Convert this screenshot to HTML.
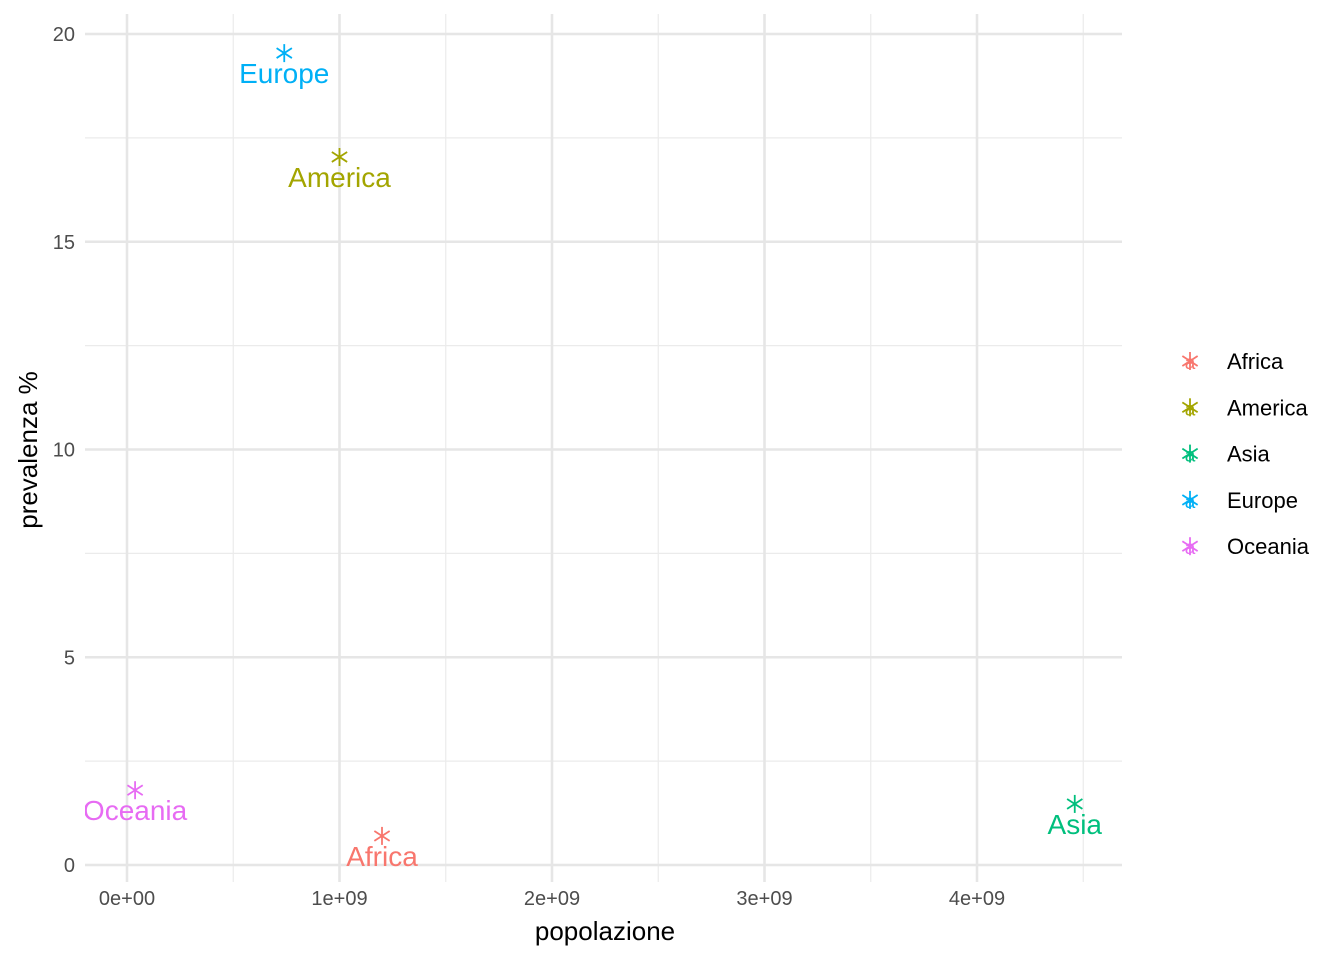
<!DOCTYPE html>
<html><head><meta charset="utf-8"><style>body{margin:0;background:#fff}svg{display:block}</style></head>
<body>
<svg id="chart" width="1344" height="960" xmlns="http://www.w3.org/2000/svg" font-family="Liberation Sans, Arial, sans-serif">
<defs><clipPath id="panel"><rect x="85" y="14" width="1037" height="868"/></clipPath></defs>
<g id="grid"></g>
<g id="marks" clip-path="url(#panel)"></g>
<g id="axes"></g>
<text x="605" y="940" font-size="26" text-anchor="middle" fill="#000">popolazione</text>
<text transform="translate(37,450) rotate(-90)" font-size="26" text-anchor="middle" fill="#000">prevalenza %</text>
<g id="legend"></g>
</svg>
<script>
const continents = ["Africa","America","Asia","Europe","Oceania"];
const popolazione = [1.2e9, 1.0e9, 4.46e9, 0.74e9, 0.038e9];
const prevalenza = [0.70, 17.04, 1.47, 19.54, 1.80];
const colors = ["#F8766D","#A3A500","#00BF7D","#00B0F6","#E76BF3"];
const xTicks = [0,1e9,2e9,3e9,4e9];
const xTickLabels = ["0e+00","1e+09","2e+09","3e+09","4e+09"];
const yTicks = [0,5,10,15,20];

const NS="http://www.w3.org/2000/svg";
const X0=85,X1=1122,Y0=14,Y1=882;
const xs=v=>127+v/1e9*212.5;
const ys=v=>865-v*41.55;
function mk(tag,attrs,parent){const e=document.createElementNS(NS,tag);for(const k in attrs)e.setAttribute(k,attrs[k]);parent.appendChild(e);return e;}
const grid=document.getElementById('grid'),marks=document.getElementById('marks'),axes=document.getElementById('axes'),legend=document.getElementById('legend');
for(let v=0.5e9;v<4.6e9;v+=1e9){const l=mk('line',{x1:xs(v),x2:xs(v),y1:Y0,y2:Y1,stroke:'#ebebeb','stroke-width':1.2},grid);
}
for(let v=2.5;v<21;v+=5){const l=mk('line',{x1:X0,x2:X1,y1:ys(v),y2:ys(v),stroke:'#ebebeb','stroke-width':1.2},grid);
}
xTicks.forEach((v,i)=>{const l=mk('line',{x1:xs(v),x2:xs(v),y1:Y0,y2:Y1,stroke:'#e6e6e6','stroke-width':2.6},grid);

const t=mk('text',{x:xs(v),y:905,'font-size':20,'text-anchor':'middle',fill:'#4d4d4d'},axes);t.textContent=xTickLabels[i];
});
yTicks.forEach(v=>{const l=mk('line',{x1:X0,x2:X1,y1:ys(v),y2:ys(v),stroke:'#e6e6e6','stroke-width':2.6},grid);

const t=mk('text',{x:75,y:ys(v)+7,'font-size':20,'text-anchor':'end',fill:'#4d4d4d'},axes);t.textContent=String(v);
});
function star(cx,cy,r,c,parent){const g=mk('g',{stroke:c,'stroke-width':1.8},parent);
mk('line',{x1:cx,x2:cx,y1:cy-r,y2:cy+r},g);
const dx=r*0.85,dy=r*0.55;mk('line',{x1:cx-dx,x2:cx+dx,y1:cy-dy,y2:cy+dy},g);mk('line',{x1:cx-dx,x2:cx+dx,y1:cy+dy,y2:cy-dy},g);return g;}
continents.forEach((n,i)=>{const px=xs(popolazione[i]),py=ys(prevalenza[i]);
const s=star(px,py,9,colors[i],marks);
const t=mk('text',{x:px,y:py+30,'font-size':28,'text-anchor':'middle',fill:colors[i]},marks);t.textContent=n;

const ly=361+i*46.3;
const k=star(1190,ly,9,colors[i],legend);
const a=mk('text',{x:1190,y:ly+8,'font-size':19,'text-anchor':'middle',fill:colors[i]},legend);a.textContent='a';

const lt=mk('text',{x:1227,y:ly+8,'font-size':22,fill:'#000'},legend);lt.textContent=n;
});
</script>
</body></html>
